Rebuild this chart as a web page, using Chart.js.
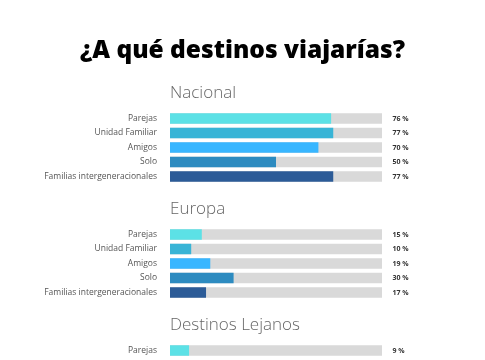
<!DOCTYPE html>
<html>
<head>
<meta charset="utf-8">
<script src="https://cdn.jsdelivr.net/npm/chart.js@4/dist/chart.umd.min.js"></script>
<style>
html,body{margin:0;padding:0;background:#fff;}
#wrap{position:relative;width:485px;height:360px;}
</style>
</head>
<body>
<div id="wrap"><canvas id="c" width="485" height="360"></canvas></div>
<script>
// ---- data ----
const chartTitle = '¿A qué destinos viajarías?';
const sections = ['Nacional', 'Europa', 'Destinos Lejanos'];
const categories = ['Parejas', 'Unidad Familiar', 'Amigos', 'Solo', 'Familias intergeneracionales'];
const nacional = [76, 77, 70, 50, 77];
const europa = [15, 10, 19, 30, 17];
const lejanos = [9];            // remaining rows are cut off in the picture
const categoryColors = ['#5ce1e6', '#38b4d6', '#38b6ff', '#2d8bc0', '#2c5b97'];
const trackColor = '#d9d9d9';
const gapRows = 3;

// ---- build table ----
const sectionValues = [nacional, europa, lejanos];
const labels = [], values = [], track = [], colors = [], sectionStart = [];
sectionValues.forEach((vals, s) => {
  if (s > 0) for (let g = 0; g < gapRows; g++) { labels.push(''); values.push(null); track.push(null); colors.push(trackColor); }
  sectionStart.push(labels.length);
  vals.forEach((v, i) => {
    labels.push(categories[i]);
    values.push(v);
    track.push(100);
    colors.push(categoryColors[i]);
  });
});

const overlay = {
  id: 'overlay',
  afterDatasetsDraw(chart) {
    const ctx = chart.ctx, y = chart.scales.y, area = chart.chartArea;
    ctx.save();
    // main title
    ctx.fillStyle = '#000';
    ctx.font = '800 24.5px "Open Sans"';
    ctx.textAlign = 'center';
    ctx.textBaseline = 'alphabetic';
    ctx.fillText(chartTitle, chart.width / 2, 58);
    // section headers
    ctx.fillStyle = '#666';
    ctx.font = '300 17px "Open Sans"';
    ctx.textAlign = 'left';
    ctx.textBaseline = 'middle';
    sections.forEach((name, s) => {
      ctx.fillText(name, area.left, y.getPixelForValue(sectionStart[s]) - 25);
    });
    // value labels
    ctx.fillStyle = '#333';
    ctx.font = 'bold 7px "Open Sans"';
    values.forEach((v, i) => {
      if (v === null) return;
      ctx.fillText(v + ' %', area.right + 10.5, y.getPixelForValue(i));
    });
    ctx.restore();
  }
};

new Chart(document.getElementById('c'), {
  type: 'bar',
  data: {
    labels: labels,
    datasets: [
      { data: values, backgroundColor: colors, order: 0, grouped: false,
        categoryPercentage: 1, barPercentage: 0.72 },
      { data: track, backgroundColor: trackColor, order: 1, grouped: false,
        categoryPercentage: 1, barPercentage: 0.72 }
    ]
  },
  options: {
    indexAxis: 'y',
    responsive: false,
    animation: false,
    layout: { padding: { left: 0, right: 103, top: 111.25, bottom: 2.25 } },
    plugins: {
      legend: { display: false },
      tooltip: { enabled: false },
      title: { display: false }
    },
    scales: {
      x: { display: false, min: 0, max: 100 },
      y: {
        grid: { display: false, drawTicks: false },
        border: { display: false },
        ticks: { autoSkip: false, padding: 13, color: '#555', font: { family: '"Open Sans"', size: 8.5 } },
        afterFit(scale) { scale.width = 170; scale.paddingTop = 0; scale.paddingBottom = 0; }
      }
    }
  },
  plugins: [overlay]
});
</script>
</body>
</html>
